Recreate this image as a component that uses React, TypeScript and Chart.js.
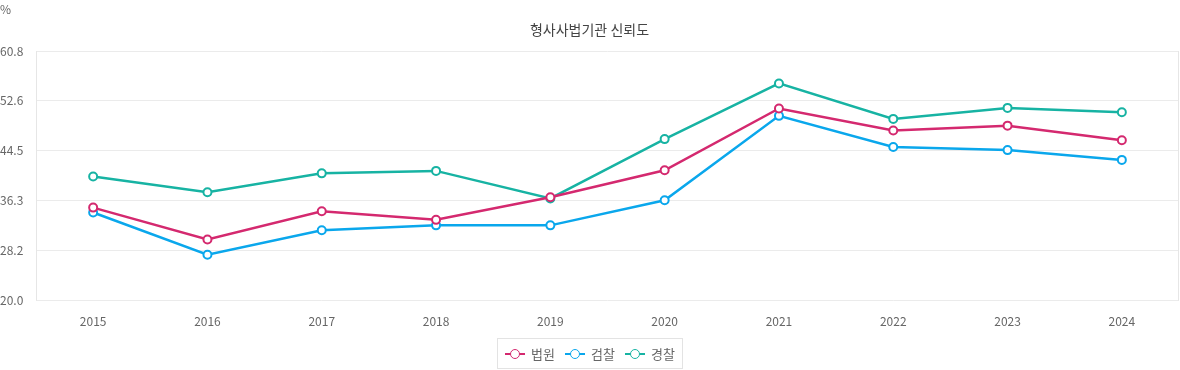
import React, { useEffect, useRef } from "react";
import { Chart, registerables } from "chart.js";

Chart.register(...registerables);

const years = ["2015", "2016", "2017", "2018", "2019", "2020", "2021", "2022", "2023", "2024"];
const court = [35.2, 30.0, 34.6, 33.2, 36.9, 41.3, 51.4, 47.8, 48.6, 46.2];
const prosecution = [34.4, 27.5, 31.5, 32.3, 32.3, 36.4, 50.2, 45.1, 44.6, 43.0];
const police = [40.3, 37.7, 40.8, 41.2, 36.7, 46.4, 55.5, 49.7, 51.5, 50.8];
const seriesNames = ["법원", "검찰", "경찰"];
const seriesColors = ["#d4296f", "#0aa7ec", "#17b3a3"];
const yMin = 20.0;
const yMax = 60.8;
const yStep = 8.16;

const FONT = "'Noto Sans CJK KR', 'Noto Sans', sans-serif";

const sideBorders = {
  id: "sideBorders",
  beforeDatasetsDraw(chart: any) {
    const { ctx, chartArea } = chart;
    ctx.save();
    ctx.strokeStyle = "#e6e6e6";
    ctx.lineWidth = 1;
    ctx.beginPath();
    ctx.moveTo(Math.round(chartArea.left) + 0.5, chartArea.top);
    ctx.lineTo(Math.round(chartArea.left) + 0.5, chartArea.bottom);
    ctx.moveTo(Math.round(chartArea.right) - 0.5, chartArea.top);
    ctx.lineTo(Math.round(chartArea.right) - 0.5, chartArea.bottom);
    ctx.stroke();
    ctx.restore();
  },
};

export default function App() {
  const canvasRef = useRef<HTMLCanvasElement | null>(null);

  useEffect(() => {
    document.body.style.margin = "0";
    const canvas = canvasRef.current;
    if (!canvas) return;
    const values = [court, prosecution, police];
    const chart = new Chart(canvas, {
      type: "line",
      data: {
        labels: years,
        datasets: seriesNames.map((name, i) => ({
          label: name,
          data: values[i],
          borderColor: seriesColors[i],
          backgroundColor: "#ffffff",
          borderWidth: 2.5,
          pointRadius: 4,
          pointBorderWidth: 2,
          pointBackgroundColor: "#ffffff",
          pointBorderColor: seriesColors[i],
          tension: 0,
        })),
      },
      options: {
        animation: false,
        responsive: false,
        maintainAspectRatio: false,
        layout: { autoPadding: false, padding: { top: 0, left: 0, right: 1, bottom: 0 } },
        plugins: {
          legend: { display: false },
          tooltip: { enabled: false },
          title: {
            display: true,
            text: "형사사법기관 신뢰도",
            color: "#444",
            font: { family: FONT, size: 14, weight: "normal", lineHeight: 1.2 },
            padding: { top: 21.5, bottom: 12.7 },
          },
        },
        scales: {
          x: {
            offset: true,
            grid: { display: false, drawTicks: false },
            border: { display: false },
            ticks: {
              color: "#666",
              font: { family: FONT, size: 12 },
              padding: 14,
              maxRotation: 0,
            },
          },
          y: {
            min: yMin,
            max: yMax,
            afterBuildTicks(scale: any) {
              const t = [];
              for (let i = 0; i <= 5; i++) t.push({ value: yMin + yStep * i });
              scale.ticks = t;
            },
            afterFit(scale: any) {
              scale.width = 36;
            },
            grid: { color: "#ebebeb", drawTicks: false },
            border: { display: false },
            ticks: {
              color: "#666",
              font: { family: FONT, size: 12 },
              crossAlign: "far",
              padding: 0,
              callback: (v: any) => Number(v).toFixed(1),
            },
          },
        },
      },
      plugins: [sideBorders],
    } as any);
    return () => chart.destroy();
  }, []);

  return (
    <div style={{ position: "relative", width: 1180, height: 370, fontFamily: FONT, background: "#fff" }}>
      <div style={{ position: "absolute", left: 0, top: 2, fontSize: 12, color: "#666", lineHeight: "14px" }}>%</div>
      <canvas ref={canvasRef} width={1180} height={343} style={{ display: "block", width: 1180, height: 343 }} />
      <div
        style={{
          position: "absolute",
          left: 497,
          top: 338,
          width: 186,
          height: 31,
          boxSizing: "border-box",
          border: "1px solid #e3e3e3",
          display: "flex",
          alignItems: "center",
          justifyContent: "center",
          gap: 10,
          fontSize: 13,
          color: "#666",
        }}
      >
        {seriesNames.map((name, i) => (
          <div key={name} style={{ display: "flex", alignItems: "center", gap: 6 }}>
            <span style={{ position: "relative", display: "inline-block", width: 20, height: 10 }}>
              <span style={{ position: "absolute", left: 0, right: 0, top: 4.5, height: 1.5, background: seriesColors[i] }} />
              <span
                style={{
                  position: "absolute",
                  left: 5,
                  top: 0,
                  width: 10,
                  height: 10,
                  boxSizing: "border-box",
                  borderRadius: "50%",
                  border: `1.5px solid ${seriesColors[i]}`,
                  background: "#fff",
                }}
              />
            </span>
            <span>{name}</span>
          </div>
        ))}
      </div>
    </div>
  );
}
